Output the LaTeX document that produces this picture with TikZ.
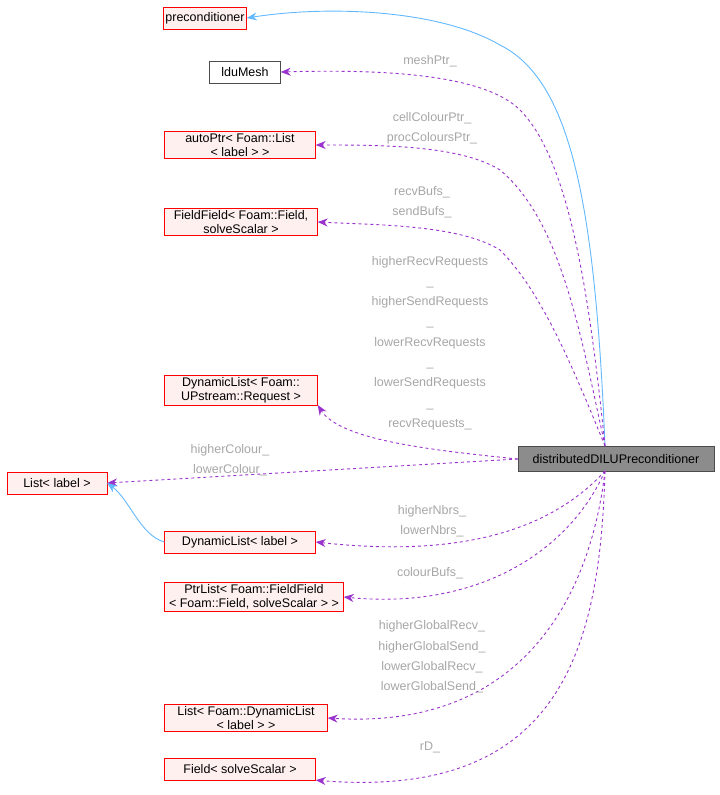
\documentclass[tikz,border=0pt]{standalone}
\usepackage{fontspec}
\setmainfont{Liberation Sans}
\usetikzlibrary{arrows.meta}
\definecolor{dp}{HTML}{9A32CD}
\definecolor{ib}{HTML}{63B8FF}
\begin{document}
\begin{tikzpicture}[x=1pt,y=-1pt,
 red/.style={draw=red,fill=red!6,align=center,font=\fontsize{12.5}{14}\selectfont,inner sep=2pt,minimum height=22pt},
 dep/.style={draw=dp,dashed,line width=0.9pt,-{Stealth[length=10pt,width=8pt]}},
 inh/.style={draw=ib,line width=0.9pt,-{Stealth[length=10pt,width=8pt]}},
 lab/.style={font=\fontsize{12.5}{20.3}\selectfont,text=black!35,align=center}]
\useasboundingbox (0,0) rectangle (720,795);
\node[red,minimum width=81pt] (pre) at (205,18) {preconditioner};
\node[draw=black!70,fill=white,font=\fontsize{12.5}{14}\selectfont,minimum height=22pt,minimum width=71pt] (ldu) at (245,72) {lduMesh};
\node[red,minimum width=151pt] (auto) at (240,145) {autoPtr< Foam::List\\< label > >};
\node[red,minimum width=153pt] (ff) at (241,222) {FieldField< Foam::Field,\\solveScalar >};
\node[red,minimum width=153pt] (dlr) at (241,390) {DynamicList< Foam::\\UPstream::Request >};
\node[draw=black!70,fill=black!45,font=\fontsize{12.5}{14}\selectfont,minimum height=25pt,minimum width=196pt] (d) at (616,459) {distributedDILUPreconditioner};
\node[red,minimum width=100pt] (list) at (57,483) {List< label >};
\node[red,minimum width=151pt] (dl) at (240,542) {DynamicList< label >};
\node[red,minimum width=179pt] (ptr) at (254,597) {PtrList< Foam::FieldField\\< Foam::Field, solveScalar > >};
\node[red,minimum width=163pt] (ldl) at (246,718) {List< Foam::DynamicList\\< label > >};
\node[red,minimum width=151pt] (fs) at (240,769) {Field< solveScalar >};
\coordinate (s) at (605,446);
\coordinate (b) at (605,471);
\draw[inh] (s) .. controls (595,200) and (570,80) .. (500,45) .. controls (440,10) and (330,5) .. (pre.east);
\draw[dep] (s) .. controls (590,300) and (570,160) .. (520,110) .. controls (480,70) and (360,70) .. (ldu.east);
\draw[dep] (s) .. controls (580,330) and (560,220) .. (500,170) .. controls (460,145) and (380,145) .. (auto.east);
\draw[dep] (s) .. controls (570,360) and (540,290) .. (500,250) .. controls (460,225) and (380,225) .. (ff.east);
\draw[dep] (d.west) .. controls (430,450) and (340,440) .. (dlr.south east);
\draw[dep] (d.west) -- (list.east);
\draw[inh] (dl.west) .. controls (140,535) and (130,500) .. (list.east);
\draw[dep] (b) .. controls (560,520) and (480,560) .. (dl.east);
\draw[dep] (b) .. controls (570,550) and (480,610) .. (ptr.east);
\draw[dep] (b) .. controls (590,600) and (520,730) .. (ldl.east);
\draw[dep] (b) .. controls (600,650) and (560,800) .. (fs.south east);
\node[lab] at (430,61) {meshPtr\_};
\node[lab] at (432,128) {cellColourPtr\_\\procColoursPtr\_};
\node[lab] at (422,202) {recvBufs\_\\sendBufs\_};
\node[lab] at (430,343) {higherRecvRequests\\\_\\higherSendRequests\\\_\\lowerRecvRequests\\\_\\lowerSendRequests\\\_\\recvRequests\_};
\node[lab] at (230,460) {higherColour\_\\lowerColour\_};
\node[lab] at (432,521) {higherNbrs\_\\lowerNbrs\_};
\node[lab] at (430,573) {colourBufs\_};
\node[lab] at (432,657) {higherGlobalRecv\_\\higherGlobalSend\_\\lowerGlobalRecv\_\\lowerGlobalSend\_};
\node[lab] at (430,747) {rD\_};
\end{tikzpicture}
\end{document}
